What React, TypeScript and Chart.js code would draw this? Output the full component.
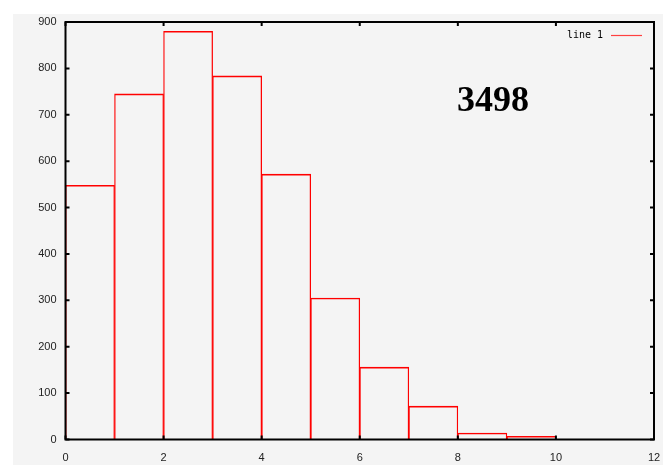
import React, { useEffect, useRef } from "react";
import { Chart, registerables } from "chart.js";

Chart.register(...registerables);

// Histogram bins (centre of each unit-wide bin) and counts
const binCenters = [0.5, 1.5, 2.5, 3.5, 4.5, 5.5, 6.5, 7.5, 8.5, 9.5];
const binCounts = [548, 745, 880, 784, 572, 305, 156, 72, 14, 7];
const xTickValues = [0, 2, 4, 6, 8, 10, 12];
const yTickValues = [0, 100, 200, 300, 400, 500, 600, 700, 800, 900];
const legendLabel = "line 1";
const annotationText = "3498";

const W = 663;
const H = 465;

const decorPlugin = {
  id: "decor",
  beforeDraw(chart: any) {
    const ctx = chart.ctx;
    ctx.save();
    ctx.fillStyle = "#ffffff";
    ctx.fillRect(0, 0, W, H);
    ctx.fillStyle = "#f4f4f4";
    ctx.fillRect(13, 14, W - 13, H - 14);
    ctx.restore();
  },
  afterDraw(chart: any) {
    const ctx = chart.ctx;
    const { left, right, top, bottom } = chart.chartArea;
    const xs = chart.scales.x;
    const ys = chart.scales.y;
    ctx.save();
    // frame
    ctx.strokeStyle = "#000";
    ctx.lineWidth = 2;
    ctx.strokeRect(left, top, right - left, bottom - top);
    // inward ticks, mirrored
    ctx.beginPath();
    const tl = 4;
    yTickValues.forEach((v) => {
      const y = ys.getPixelForValue(v);
      ctx.moveTo(left, y);
      ctx.lineTo(left + tl, y);
      ctx.moveTo(right, y);
      ctx.lineTo(right - tl, y);
    });
    xTickValues.forEach((v) => {
      const x = xs.getPixelForValue(v);
      ctx.moveTo(x, bottom);
      ctx.lineTo(x, bottom - tl);
      ctx.moveTo(x, top);
      ctx.lineTo(x, top + tl);
    });
    ctx.stroke();
    // legend
    ctx.fillStyle = "#000";
    ctx.font = '10px "DejaVu Sans Mono"';
    ctx.textAlign = "right";
    ctx.textBaseline = "middle";
    ctx.fillText(legendLabel, 603, 35);
    ctx.strokeStyle = "#ff4040";
    ctx.lineWidth = 1.2;
    ctx.beginPath();
    ctx.moveTo(611, 35.5);
    ctx.lineTo(642, 35.5);
    ctx.stroke();
    // annotation
    ctx.fillStyle = "#000";
    ctx.font = 'bold 36px "Liberation Serif"';
    ctx.textAlign = "center";
    ctx.textBaseline = "alphabetic";
    ctx.fillText(annotationText, 493, 111);
    ctx.restore();
  },
};

export default function App() {
  const ref = useRef<HTMLCanvasElement | null>(null);
  useEffect(() => {
    if (!ref.current) return;
    const chart = new Chart(ref.current, {
      type: "bar",
      data: {
        datasets: [
          {
            label: legendLabel,
            data: binCenters.map((x, i) => ({ x, y: binCounts[i] })),
            backgroundColor: "rgba(0,0,0,0)",
            borderColor: "#ff0000",
            borderWidth: { top: 1, left: 0.6, right: 0.6, bottom: 0 },
            borderSkipped: false,
            barPercentage: 1,
            categoryPercentage: 1,
          },
        ],
      },
      options: {
        responsive: false,
        animation: false,
        devicePixelRatio: 1,
        layout: { padding: { left: 0, top: 22, right: 9, bottom: 0 } },
        plugins: { legend: { display: false }, tooltip: { enabled: false } },
        scales: {
          x: {
            type: "linear",
            min: 0,
            max: 12,
            offset: false,
            grid: { display: false, drawTicks: false },
            border: { display: false },
            ticks: {
              stepSize: 2,
              padding: 12,
              color: "#222",
              font: { family: "Liberation Sans", size: 11 },
              maxRotation: 0,
            },
            afterFit(scale: any) {
              scale.height = 25.5;
              scale.paddingLeft = 0;
              scale.paddingRight = 0;
            },
          },
          y: {
            min: 0,
            max: 900,
            grid: { display: false, drawTicks: false },
            border: { display: false },
            ticks: {
              stepSize: 100,
              padding: 9,
              color: "#222",
              font: { family: "Liberation Sans", size: 11 },
            },
            afterFit(scale: any) {
              scale.width = 65.5;
              scale.paddingTop = 0;
              scale.paddingBottom = 0;
            },
          },
        },
      },
      plugins: [decorPlugin],
    });
    return () => chart.destroy();
  }, []);
  return (
    <div style={{ position: "fixed", left: 0, top: 0, width: W, height: H }}>
      <canvas ref={ref} width={W} height={H} style={{ width: W, height: H, display: "block" }} />
    </div>
  );
}
